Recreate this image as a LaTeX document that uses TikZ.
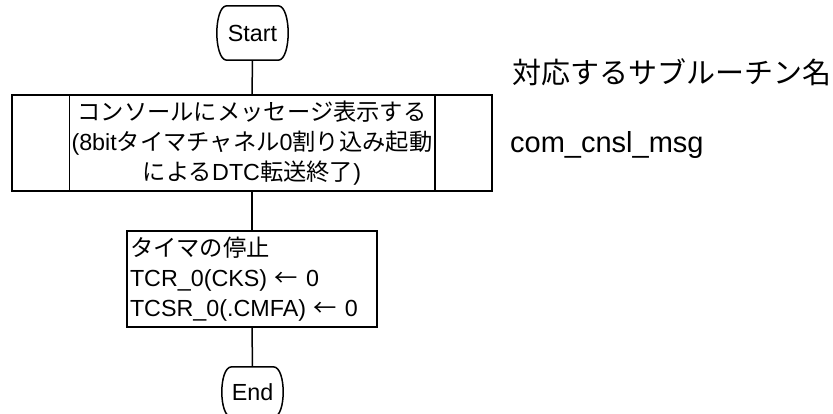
\documentclass[tikz,border=0pt]{standalone}
\usepackage{fontspec}
\setmainfont{Liberation Sans}
\newfontfamily\jp{Noto Sans CJK JP}
\newcommand\termoutline[1]{%
  \draw[ln] ([xshift=10]#1.north west) -- ([xshift=-10]#1.north east)
    .. controls ([xshift=-3]#1.north east) and ([yshift=12]#1.east) .. (#1.east)
    .. controls ([yshift=-12]#1.east) and ([xshift=-3]#1.south east) .. ([xshift=-10]#1.south east)
    -- ([xshift=10]#1.south west)
    .. controls ([xshift=3]#1.south west) and ([yshift=-12]#1.west) .. (#1.west)
    .. controls ([yshift=12]#1.west) and ([xshift=3]#1.north west) .. cycle;}
\begin{document}
\begin{tikzpicture}[x=1pt,y=-1pt,
  ln/.style={line width=1.5pt, black},
  txt/.style={font=\fontsize{23.3}{30}\selectfont},
  term/.style={txt, inner sep=0pt, minimum height=#1},
  procbox/.style={ln, draw, txt, inner xsep=58pt, inner ysep=0pt, text width=364pt, align=center, minimum height=96pt},
  taskbox/.style={ln, draw, font=\fontsize{23.3}{29.5}\selectfont, inner xsep=3pt, inner ysep=0pt, text width=244pt, align=left, minimum height=96pt}]
\useasboundingbox (0,0) rectangle (833,414);
\node[term=54pt, minimum width=71pt] (s) at (252.5,33) {Start};
\termoutline{s}
\node[procbox] (p) at (252,143) {{\jp コンソールにメッセージ表示する}\\(8bit{\jp タイマチャネル}0{\jp 割り込み起動}\\{\jp による}DTC{\jp 転送終了})};
\draw[ln] ([xshift=58pt]p.north west) -- ([xshift=58pt]p.south west);
\draw[ln] ([xshift=-58pt]p.north east) -- ([xshift=-58pt]p.south east);
\node[taskbox] (t) at (252,279) {{\jp タイマの停止}\\[1pt]TCR\_0(CKS) {\jp ←} 0\\TCSR\_0(.CMFA) {\jp ←} 0};
\node[term=50pt, minimum width=61pt] (e) at (252.5,392) {End};
\termoutline{e}
\draw[ln] (s.south) -- (p.north);
\draw[ln] (p.south) -- (t.north);
\draw[ln] (t.south) -- (e.north);
\node[anchor=west, inner sep=0pt, font=\fontsize{29}{34}\selectfont\jp] (title) at (512,72) {対応するサブルーチン名};
\node[anchor=base west, inner sep=0pt, font=\fontsize{29}{34}\selectfont] (sub) at (510,153) {com\_cnsl\_msg};
\end{tikzpicture}
\end{document}
